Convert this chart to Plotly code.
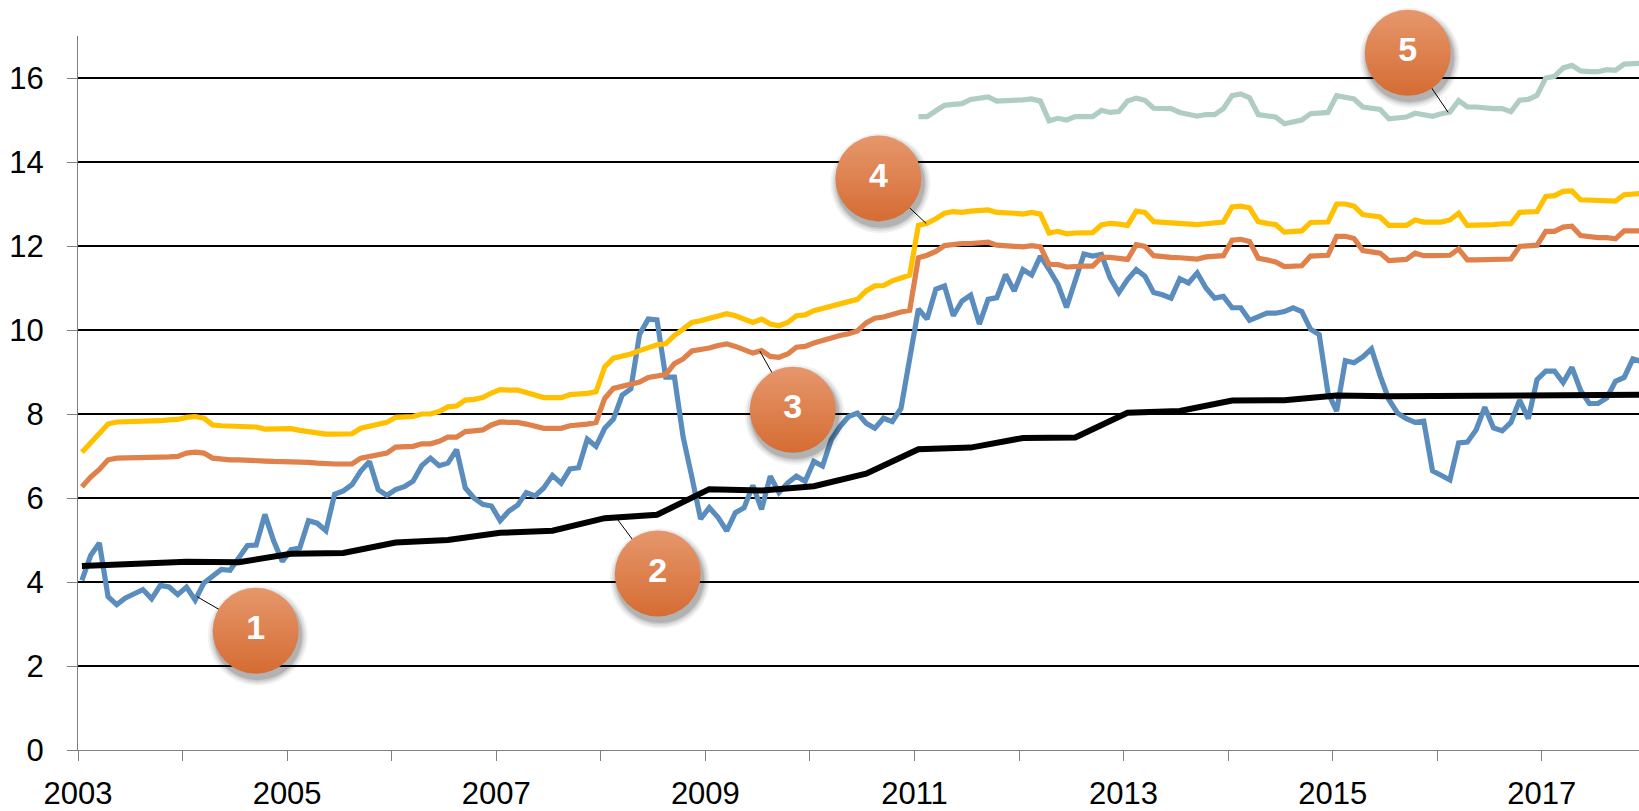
import numpy as np
import plotly.graph_objects as go

# ---------------- data (monthly, Jan 2003 .. Dec 2017) ----------------
series1_blue = [
    4.04, 4.63, 4.93, 3.65, 3.46, 3.62, 3.72, 3.82, 3.60, 3.92, 3.88, 3.70,
    3.88, 3.57, 3.98, 4.16, 4.30, 4.28, 4.59, 4.87, 4.88, 5.61, 4.98, 4.49,
    4.77, 4.81, 5.46, 5.40, 5.22, 6.09, 6.17, 6.32, 6.64, 6.87, 6.20, 6.06,
    6.20, 6.27, 6.40, 6.77, 6.95, 6.77, 6.83, 7.15, 6.24, 6.00, 5.85, 5.81,
    5.46, 5.69, 5.83, 6.13, 6.05, 6.24, 6.54, 6.35, 6.69, 6.72, 7.40, 7.23,
    7.66, 7.88, 8.45, 8.60, 9.90, 10.26, 10.24, 8.88, 8.88, 7.45, 6.50, 5.50,
    5.77, 5.54, 5.22, 5.65, 5.77, 6.30, 5.73, 6.52, 6.13, 6.36, 6.52, 6.40,
    6.87, 6.76, 7.39, 7.70, 7.94, 8.02, 7.78, 7.66, 7.90, 7.82, 8.13, 9.29,
    10.50, 10.26, 10.97, 11.05, 10.34, 10.69, 10.83, 10.14, 10.73, 10.77, 11.32, 10.93,
    11.44, 11.31, 11.76, 11.44, 11.09, 10.54, 11.17, 11.81, 11.76, 11.80, 11.24, 10.89,
    11.20, 11.44, 11.28, 10.89, 10.84, 10.76, 11.22, 11.12, 11.36, 11.00, 10.76, 10.80,
    10.53, 10.53, 10.23, 10.33, 10.40, 10.40, 10.44, 10.53, 10.44, 10.02, 9.89, 8.51,
    8.07, 9.27, 9.22, 9.36, 9.55, 8.91, 8.34, 8.02, 7.89, 7.80, 7.83, 6.65,
    6.54, 6.43, 7.31, 7.33, 7.62, 8.16, 7.67, 7.60, 7.80, 8.33, 7.89, 8.82,
    9.02, 9.02, 8.75, 9.11, 8.56, 8.25, 8.25, 8.38, 8.78, 8.87, 9.31, 9.25,
]

# semi-annual points (every 6 months from Jan 2003)
series2_black = [
    4.38, 4.42, 4.48, 4.47, 4.67, 4.69, 4.94, 5.00, 5.17, 5.22, 5.52, 5.60,
    6.21, 6.18, 6.28, 6.58, 7.16, 7.20, 7.43, 7.44, 8.03, 8.07, 8.32, 8.33,
    8.44, 8.42, 8.43, 8.44, 8.45, 8.46, 8.46,
]

series3_orange = [
    6.27, 6.50, 6.68, 6.91, 6.95, 6.95, 6.95, 6.96, 6.96, 6.97, 6.98, 6.99,
    7.07, 7.09, 7.07, 6.95, 6.92, 6.91, 6.91, 6.91, 6.90, 6.88, 6.87, 6.87,
    6.87, 6.87, 6.85, 6.83, 6.81, 6.81, 6.81, 6.81, 6.95, 6.99, 7.03, 7.07,
    7.21, 7.23, 7.23, 7.29, 7.29, 7.35, 7.45, 7.45, 7.58, 7.60, 7.62, 7.74,
    7.81, 7.80, 7.80, 7.76, 7.70, 7.66, 7.66, 7.66, 7.72, 7.73, 7.76, 7.80,
    8.37, 8.61, 8.66, 8.72, 8.76, 8.87, 8.90, 8.94, 9.20, 9.31, 9.50, 9.53,
    9.57, 9.63, 9.67, 9.61, 9.53, 9.45, 9.51, 9.37, 9.35, 9.43, 9.59, 9.61,
    9.69, 9.75, 9.83, 9.87, 9.91, 9.98, 10.17, 10.28, 10.31, 10.38, 10.43, 10.47,
    11.72, 11.78, 11.87, 12.01, 12.05, 12.06, 12.06, 12.07, 12.09, 12.02, 12.01, 12.01,
    11.98, 12.01, 11.98, 11.56, 11.56, 11.50, 11.52, 11.52, 11.52, 11.73, 11.73, 11.72,
    11.68, 12.03, 11.99, 11.77, 11.74, 11.73, 11.72, 11.71, 11.69, 11.74, 11.76, 11.77,
    12.14, 12.16, 12.11, 11.71, 11.67, 11.62, 11.51, 11.51, 11.53, 11.76, 11.78, 11.78,
    12.23, 12.23, 12.18, 11.89, 11.86, 11.83, 11.65, 11.67, 11.68, 11.83, 11.77, 11.77,
    11.77, 11.78, 11.93, 11.67, 11.67, 11.68, 11.68, 11.69, 11.69, 11.99, 12.02, 12.02,
    12.35, 12.35, 12.45, 12.47, 12.25, 12.22, 12.20, 12.20, 12.17, 12.36, 12.36, 12.36,
]

series4_yellow = [
    7.09, 7.31, 7.50, 7.76, 7.81, 7.81, 7.82, 7.82, 7.83, 7.84, 7.86, 7.87,
    7.92, 7.94, 7.90, 7.74, 7.72, 7.71, 7.70, 7.69, 7.69, 7.64, 7.65, 7.65,
    7.65, 7.61, 7.58, 7.54, 7.52, 7.52, 7.52, 7.53, 7.66, 7.70, 7.76, 7.80,
    7.92, 7.94, 7.94, 8.00, 8.00, 8.06, 8.17, 8.19, 8.33, 8.35, 8.39, 8.50,
    8.58, 8.57, 8.57, 8.51, 8.45, 8.39, 8.39, 8.39, 8.46, 8.46, 8.49, 8.53,
    9.12, 9.33, 9.37, 9.43, 9.51, 9.59, 9.65, 9.67, 9.87, 10.02, 10.18, 10.22,
    10.28, 10.35, 10.39, 10.34, 10.26, 10.18, 10.26, 10.14, 10.10, 10.18, 10.34, 10.36,
    10.46, 10.51, 10.57, 10.63, 10.65, 10.73, 10.93, 11.05, 11.06, 11.17, 11.24, 11.31,
    12.49, 12.54, 12.65, 12.78, 12.82, 12.80, 12.83, 12.84, 12.86, 12.80, 12.80, 12.78,
    12.76, 12.80, 12.76, 12.31, 12.35, 12.29, 12.31, 12.31, 12.32, 12.50, 12.54, 12.52,
    12.49, 12.83, 12.80, 12.58, 12.56, 12.56, 12.53, 12.51, 12.51, 12.53, 12.55, 12.57,
    12.93, 12.95, 12.91, 12.58, 12.54, 12.51, 12.33, 12.33, 12.36, 12.56, 12.57, 12.57,
    13.00, 13.00, 12.95, 12.75, 12.72, 12.69, 12.49, 12.49, 12.49, 12.62, 12.57, 12.57,
    12.57, 12.62, 12.78, 12.49, 12.49, 12.49, 12.51, 12.53, 12.53, 12.80, 12.80, 12.82,
    13.18, 13.20, 13.30, 13.31, 13.10, 13.09, 13.07, 13.07, 13.07, 13.22, 13.25, 13.25,
]

# starts Jan 2011 (month index 96)
series5_green_start = 96
series5_green = [
    15.08, 15.08, 15.22, 15.35, 15.37, 15.39, 15.49, 15.52, 15.55, 15.45, 15.45, 15.45,
    15.48, 15.50, 15.45, 14.98, 15.04, 15.00, 15.08, 15.08, 15.08, 15.23, 15.18, 15.20,
    15.45, 15.52, 15.47, 15.28, 15.28, 15.27, 15.18, 15.12, 15.09, 15.13, 15.13, 15.27,
    15.58, 15.62, 15.53, 15.13, 15.09, 15.07, 14.91, 14.94, 15.00, 15.15, 15.16, 15.18,
    15.58, 15.53, 15.50, 15.31, 15.28, 15.25, 15.03, 15.06, 15.07, 15.16, 15.11, 15.09,
    15.15, 15.19, 15.46, 15.31, 15.31, 15.28, 15.27, 15.27, 15.20, 15.47, 15.49, 15.59,
    16.00, 16.04, 16.24, 16.30, 16.17, 16.15, 16.15, 16.20, 16.18, 16.33, 16.35, 16.35,
]

# callouts: label, centre (decimal year, value), anchored series and month index
callout_labels = ["1", "2", "3", "4", "5"]
callout_x = [2004.70, 2008.545, 2009.836, 2010.655, 2015.718]
callout_y = [2.84, 4.20, 8.10, 13.61, 16.60]
callout_series = ["blue", "black", "orange", "yellow", "green"]
callout_anchor_month = [13.2, 61.3, 77.8, 96.9, 156.8]

y_ticks = [0, 2, 4, 6, 8, 10, 12, 14, 16]
x_label_years = [2003, 2005, 2007, 2009, 2011, 2013, 2015, 2017]

# ---------------- helpers ----------------
START_YEAR = 2003
MONTH_SHIFT = 0.45  # points sit mid-month


def month_to_x(m):
    return START_YEAR + (np.asarray(m, dtype=float) + MONTH_SHIFT) / 12.0


m_all = np.arange(len(series1_blue))
m_black = np.arange(len(series2_black)) * 6
m_green = np.arange(len(series5_green)) + series5_green_start

series_data = {
    "blue": (m_all, np.array(series1_blue)),
    "black": (m_black, np.array(series2_black)),
    "orange": (m_all, np.array(series3_orange)),
    "yellow": (m_all, np.array(series4_yellow)),
    "green": (m_green, np.array(series5_green)),
}
colors = {
    "blue": "#5A8DBD",
    "black": "#000000",
    "orange": "#E0804A",
    "yellow": "#FFC000",
    "green": "#B0CDC3",
}
widths = {"blue": 5.2, "black": 6, "orange": 5.2, "yellow": 5.2, "green": 5.2}

fig = go.Figure()
for name in ["blue", "black", "orange", "yellow", "green"]:
    mm, vv = series_data[name]
    fig.add_trace(go.Scatter(
        x=month_to_x(mm), y=vv, mode="lines",
        line=dict(color=colors[name], width=widths[name], shape="linear"),
        hoverinfo="skip", showlegend=False,
    ))

# leader lines
for cx, cy, s, am in zip(callout_x, callout_y, callout_series, callout_anchor_month):
    mm, vv = series_data[s]
    ay = float(np.interp(am, mm, vv))
    ax = float(month_to_x(am))
    fig.add_trace(go.Scatter(
        x=[ax, cx], y=[ay, cy], mode="lines",
        line=dict(color="#000000", width=1),
        hoverinfo="skip", showlegend=False, cliponaxis=False,
    ))

# soft shadows
px_per_year = 104.56
px_per_unit = 42.35
sh_dx = 2 / px_per_year
sh_dy = -5 / px_per_unit
for size, alpha in [(100, 0.05), (96, 0.07), (92, 0.09), (89, 0.12)]:
    fig.add_trace(go.Scatter(
        x=[x + sh_dx for x in callout_x], y=[y + sh_dy for y in callout_y],
        mode="markers",
        marker=dict(size=size, color=f"rgba(0,0,0,{alpha})", line=dict(width=0)),
        hoverinfo="skip", showlegend=False, cliponaxis=False,
    ))

# circles with numbers
fig.add_trace(go.Scatter(
    x=callout_x, y=callout_y, mode="markers+text",
    text=callout_labels, textposition="middle center",
    textfont=dict(family="Liberation Sans, Arial, sans-serif", size=34,
                  color="#FFFFFF", weight="bold"),
    marker=dict(size=86, color="#E6976C", line=dict(width=0),
                gradient=dict(type="vertical", color="#D56C33")),
    hoverinfo="skip", showlegend=False, cliponaxis=False,
))

x_end = START_YEAR + (1639 - 78) / px_per_year

fig.update_layout(
    width=1639, height=811,
    margin=dict(l=78, r=0, t=36, b=55, pad=0),
    paper_bgcolor="#FFFFFF", plot_bgcolor="#FFFFFF",
    font=dict(family="Liberation Sans, Arial, sans-serif", size=31, color="#000000"),
    showlegend=False,
    xaxis=dict(
        range=[START_YEAR, x_end],
        tickmode="array", tickvals=x_label_years,
        ticktext=[str(v) for v in x_label_years],
        ticks="outside", ticklen=10, tickwidth=1, tickcolor="#808080",
        minor=dict(ticks="outside", ticklen=10, tickwidth=1, tickcolor="#808080",
                   dtick=1, tick0=START_YEAR, showgrid=False),
        showgrid=False, zeroline=False,
        showline=True, linecolor="#808080", linewidth=1,
        ticklabelstandoff=6,
        tickfont=dict(size=31),
    ),
    yaxis=dict(
        range=[0, 17],
        tickmode="array", tickvals=y_ticks,
        ticks="outside", ticklen=10, tickwidth=1, tickcolor="#808080",
        showgrid=True, gridcolor="#000000", gridwidth=2,
        zeroline=False,
        showline=True, linecolor="#808080", linewidth=1,
        ticklabelstandoff=17,
        tickfont=dict(size=31),
    ),
)

fig.write_html("out.html", config={"displayModeBar": False},
               post_script="document.body.style.margin='0';")
